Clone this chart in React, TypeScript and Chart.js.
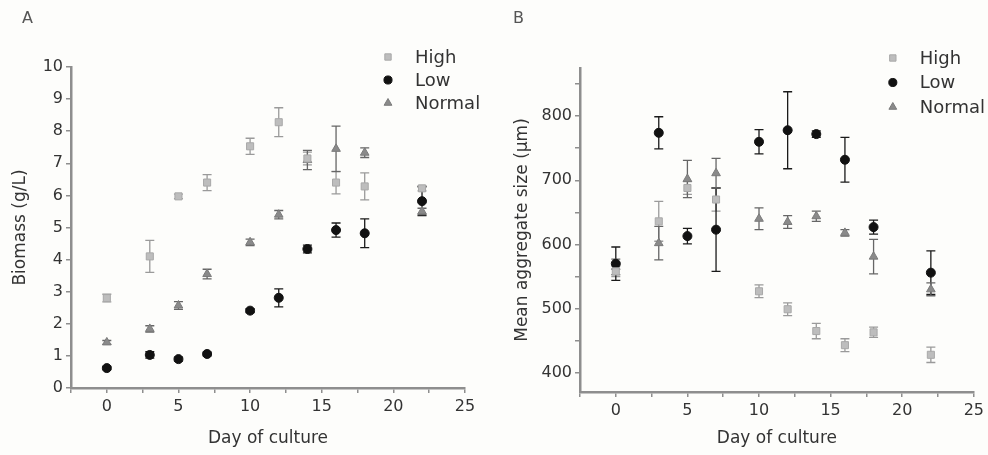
import React, { useEffect, useRef } from 'react';
import { Chart, registerables } from 'chart.js';

Chart.register(...registerables);

// ---------- data ----------
const days = [0, 3, 5, 7, 10, 12, 14, 16, 18, 22];
const seriesNames = ['High', 'Low', 'Normal'];

// Panel A: biomass (g/L)
const biomassHigh = [2.8, 4.1, 5.97, 6.4, 7.53, 8.28, 7.15, 6.4, 6.28, 6.22];
const biomassHighErr = [0.12, 0.5, 0.07, 0.25, 0.25, 0.45, 0.2, 0.35, 0.42, 0.08];
const biomassLow = [0.62, 1.03, 0.9, 1.06, 2.41, 2.81, 4.33, 4.92, 4.82, 5.82];
const biomassLowErr = [0.05, 0.1, 0.06, 0.06, 0.06, 0.28, 0.12, 0.22, 0.45, 0.45];
const biomassNormal = [1.42, 1.84, 2.57, 3.55, 4.54, 5.4, 7.1, 7.45, 7.33, 5.5];
const biomassNormalErr = [0.06, 0.1, 0.12, 0.15, 0.1, 0.13, 0.3, 0.71, 0.15, 0.1];

// Panel B: mean aggregate size (µm)
const sizeHigh = [558, 636, 688, 670, 527, 499, 465, 443, 463, 428];
const sizeHighErr = [8, 31, 10, 18, 10, 10, 12, 10, 8, 12];
const sizeLow = [570, 774, 613, 623, 760, 778, 772, 732, 627, 556];
const sizeLowErr = [26, 25, 12, 65, 19, 60, 5, 35, 11, 34];
const sizeNormal = [565, 602, 702, 711, 640, 635, 644, 618, 581, 530];
const sizeNormalErr = [12, 26, 29, 23, 17, 10, 8, 5, 27, 10];

// tick values
const xTicks = [-2.5, 0, 2.5, 5, 7.5, 10, 12.5, 15, 17.5, 20, 22.5, 25];
const yTicksA = [0, 1, 2, 3, 4, 5, 6, 7, 8, 9, 10];
const yTicksB = [400, 450, 500, 550, 600, 650, 700, 750, 800, 850];

// ---------- styles ----------
const FONT = "'DejaVu Sans', 'Liberation Sans', sans-serif";
const AXIS = '#8e8e8e';
const TEXT = '#333333';
const BG = '#fdfdfb';

const styles = [
  { shape: 'rect', fill: '#bdbdbd', stroke: '#a8a8a8', bar: '#9a9a9a', radius: 5 },
  { shape: 'circle', fill: '#111111', stroke: '#111111', bar: '#1a1a1a', radius: 4.5 },
  { shape: 'triangle', fill: '#8a8a8a', stroke: '#7a7a7a', bar: '#666666', radius: 5 },
];

function drawMarker(ctx: CanvasRenderingContext2D, shape: string, x: number, y: number, r: number, fill: string, stroke: string) {
  ctx.save();
  ctx.fillStyle = fill;
  ctx.strokeStyle = stroke;
  ctx.lineWidth = 1;
  ctx.beginPath();
  if (shape === 'rect') {
    const s = Math.SQRT1_2 * r;
    ctx.rect(x - s, y - s, 2 * s, 2 * s);
  } else if (shape === 'circle') {
    ctx.arc(x, y, r, 0, Math.PI * 2);
  } else {
    const h = r * 1.5;
    const w = r * Math.sqrt(3);
    ctx.moveTo(x, y - r);
    ctx.lineTo(x + w / 2, y - r + h);
    ctx.lineTo(x - w / 2, y - r + h);
    ctx.closePath();
  }
  ctx.fill();
  ctx.stroke();
  ctx.restore();
}

const errorBarPlugin = {
  id: 'errorBars',
  beforeDatasetsDraw(chart: any) {
    const ctx = chart.ctx as CanvasRenderingContext2D;
    const xs = chart.scales.x;
    const ys = chart.scales.y;
    chart.data.datasets.forEach((ds: any) => {
      ctx.save();
      ctx.strokeStyle = ds.barColor;
      ctx.lineWidth = 1.3;
      ds.data.forEach((p: any, i: number) => {
        const e = ds.errs[i];
        const px = xs.getPixelForValue(p.x);
        const yt = ys.getPixelForValue(p.y + e);
        const yb = ys.getPixelForValue(p.y - e);
        ctx.beginPath();
        ctx.moveTo(px, yt);
        ctx.lineTo(px, yb);
        ctx.moveTo(px - 4.5, yt);
        ctx.lineTo(px + 4.5, yt);
        ctx.moveTo(px - 4.5, yb);
        ctx.lineTo(px + 4.5, yb);
        ctx.stroke();
      });
      ctx.restore();
    });
  },
};

type PanelProps = {
  values: number[][];
  errs: number[][];
  yMin: number;
  yMax: number;
  yTicks: number[];
  yLabel: (v: number) => string;
  yTitle: string;
  padLeft: number;
  yWidth: number;
  padTop: number;
  padRight: number;
  xHeight: number;
  legendDx: number;
  legendY: number;
  legendGap: number;
};

function Panel(props: PanelProps) {
  const ref = useRef<HTMLCanvasElement | null>(null);
  useEffect(() => {
    if (!ref.current) return;
    const legendPlugin = {
      id: 'customLegend',
      afterDraw(chart: any) {
        const ctx = chart.ctx as CanvasRenderingContext2D;
        const mx = chart.chartArea.right - props.legendDx;
        ctx.save();
        ctx.font = `18px ${FONT}`;
        ctx.fillStyle = TEXT;
        ctx.textBaseline = 'middle';
        ctx.textAlign = 'left';
        seriesNames.forEach((name, i) => {
          const y = props.legendY + i * props.legendGap;
          const st = styles[i];
          drawMarker(ctx, st.shape, mx, y, st.radius * 0.9, st.fill, st.stroke);
          ctx.fillText(name, mx + 27, y + 1);
        });
        ctx.restore();
      },
    };
    const datasets = seriesNames.map((name, i) => ({
      label: name,
      data: days.map((d, j) => ({ x: d, y: props.values[i][j] })),
      errs: props.errs[i],
      barColor: styles[i].bar,
      pointStyle: styles[i].shape,
      pointRadius: styles[i].radius,
      pointBackgroundColor: styles[i].fill,
      pointBorderColor: styles[i].stroke,
      pointBorderWidth: 1,
      showLine: false,
    }));
    const chart = new Chart(ref.current, {
      type: 'scatter',
      data: { datasets: datasets as any },
      plugins: [errorBarPlugin, legendPlugin],
      options: {
        responsive: false,
        animation: false,
        layout: { padding: { left: props.padLeft, top: props.padTop, right: props.padRight, bottom: 2 } },
        plugins: { legend: { display: false }, tooltip: { enabled: false } },
        scales: {
          x: {
            type: 'linear',
            min: -2.5,
            max: 25,
            afterBuildTicks: (s: any) => {
              s.ticks = xTicks.map((v) => ({ value: v }));
            },
            afterFit: (s: any) => {
              s.height = props.xHeight;
            },
            ticks: {
              font: { family: FONT, size: 16 },
              color: TEXT,
              padding: 4,
              maxRotation: 0,
              autoSkip: false,
              callback: (v: any) => (Number(v) % 5 === 0 ? String(v) : ''),
            },
            grid: { drawOnChartArea: false, drawTicks: true, tickLength: 5, color: AXIS, lineWidth: 1.5 },
            border: { display: true, color: AXIS, width: 2.5 },
            title: { display: true, text: 'Day of culture', font: { family: FONT, size: 17 }, color: TEXT, padding: { top: 4, bottom: 4 } },
          },
          y: {
            type: 'linear',
            min: props.yMin,
            max: props.yMax,
            afterBuildTicks: (s: any) => {
              s.ticks = props.yTicks.map((v) => ({ value: v }));
            },
            afterFit: (s: any) => {
              s.width = props.yWidth;
            },
            ticks: {
              font: { family: FONT, size: 16 },
              color: TEXT,
              padding: 3,
              autoSkip: false,
              callback: (v: any) => props.yLabel(Number(v)),
            },
            grid: { drawOnChartArea: false, drawTicks: true, tickLength: 5, color: AXIS, lineWidth: 1.5 },
            border: { display: true, color: AXIS, width: 2.5 },
            title: { display: true, text: props.yTitle, font: { family: FONT, size: 17 }, color: TEXT, padding: { top: 4, bottom: 4 } },
          },
        },
      } as any,
    });
    return () => chart.destroy();
  }, []);
  return <canvas ref={ref} width={494} height={455} style={{ display: 'block', width: 494, height: 455 }} />;
}

export default function App() {
  useEffect(() => {
    document.body.style.margin = '0';
    document.body.style.background = BG;
  }, []);
  const labelStyle: React.CSSProperties = {
    position: 'absolute',
    top: 10,
    fontFamily: FONT,
    fontSize: 16,
    lineHeight: '16px',
    color: '#555',
  };
  return (
    <div style={{ position: 'fixed', left: 0, top: 0, width: 988, height: 455, background: BG }}>
      <div style={{ position: 'absolute', left: 0, top: 0 }}>
        <Panel
          values={[biomassHigh, biomassLow, biomassNormal]}
          errs={[biomassHighErr, biomassLowErr, biomassNormalErr]}
          yMin={0}
          yMax={10}
          yTicks={yTicksA}
          yLabel={(v) => String(v)}
          yTitle="Biomass (g/L)"
          padLeft={6}
          yWidth={65}
          padTop={67}
          padRight={29}
          xHeight={65}
          legendDx={77}
          legendY={57}
          legendGap={23}
        />
      </div>
      <div style={{ position: 'absolute', left: 494, top: 0 }}>
        <Panel
          values={[sizeHigh, sizeLow, sizeNormal]}
          errs={[sizeHighErr, sizeLowErr, sizeNormalErr]}
          yMin={370}
          yMax={875}
          yTicks={yTicksB}
          yLabel={(v) => (v % 100 === 0 ? String(v) : '')}
          yTitle="Mean aggregate size (µm)"
          padLeft={14}
          yWidth={72}
          padTop={68}
          padRight={14}
          xHeight={61}
          legendDx={81}
          legendY={58}
          legendGap={24.5}
        />
      </div>
      <div style={{ ...labelStyle, left: 22 }}>A</div>
      <div style={{ ...labelStyle, left: 513 }}>B</div>
    </div>
  );
}
